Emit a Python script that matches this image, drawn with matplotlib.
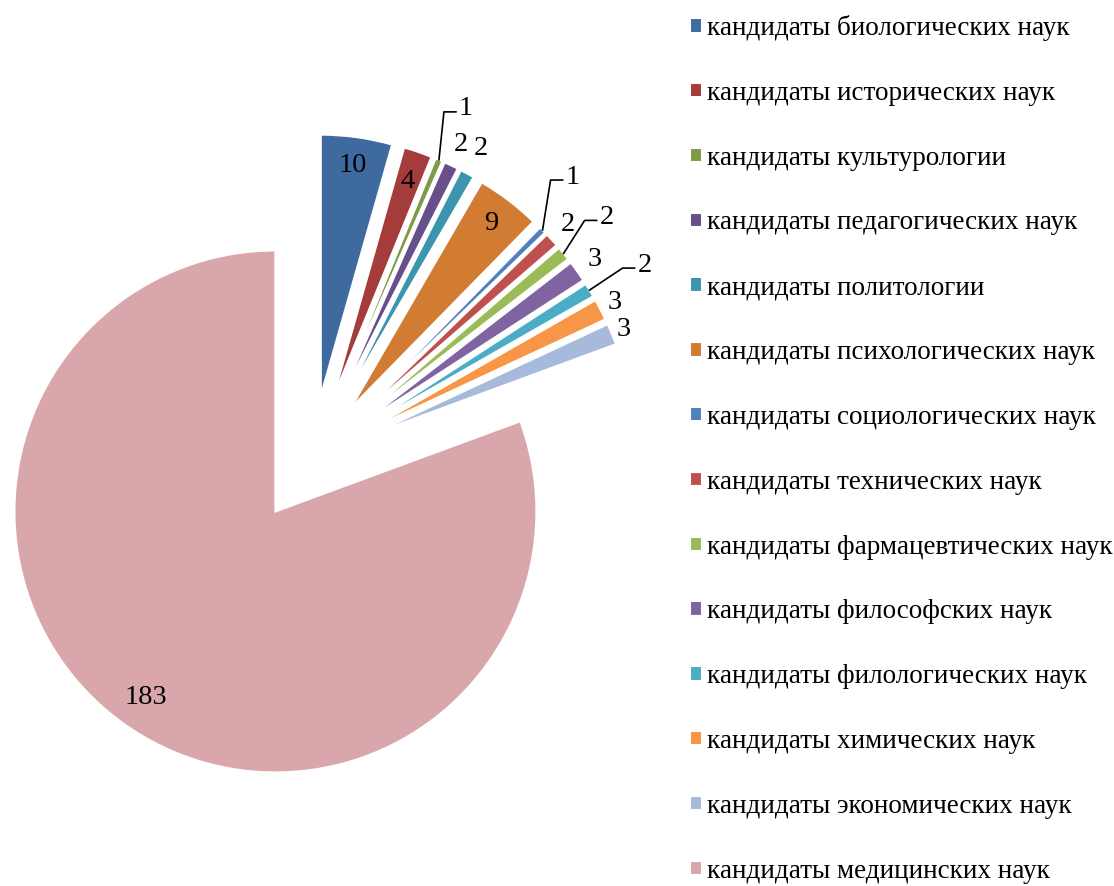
import numpy as np
import matplotlib.pyplot as plt

plt.rcParams['font.family'] = ['Liberation Serif', 'DejaVu Serif']

categories = [
    'кандидаты биологических наук',
    'кандидаты исторических наук',
    'кандидаты культурологии',
    'кандидаты педагогических наук',
    'кандидаты политологии',
    'кандидаты психологических наук',
    'кандидаты социологических наук',
    'кандидаты технических наук',
    'кандидаты фармацевтических наук',
    'кандидаты философских наук',
    'кандидаты филологических наук',
    'кандидаты химических наук',
    'кандидаты экономических наук',
    'кандидаты медицинских наук',
]
values = [10, 4, 1, 2, 2, 9, 1, 2, 2, 3, 2, 3, 3, 183]
colors = ['#3f6a9f', '#a33c3b', '#7e9b46', '#674f8b', '#3a95ad', '#d27b33',
          '#4f81bd', '#c0504d', '#9bbb59', '#8064a2', '#4bacc6', '#f79646',
          '#a7badb', '#d9a7ab']

# label placement: radius (in pie radii) or leader line offset in px
label_r = [0.89, 0.88, None, 1.09, 1.11, 0.89, None, 1.085, None, 1.08, None, 1.06, 1.05, 0.87]
leaders = {2: (5, 48), 6: (8, 50), 8: (21, 33), 10: (33, 22)}

W, H = 1114, 886
fig = plt.figure(figsize=(W / 100, H / 100), dpi=100)
px = 261.0          # pixels per unit radius
cx, cy = 312, 459   # pie centre in px (from left / top)
ax_w = 690
ax = fig.add_axes([0, 0, ax_w / W, 1])

wedges, _ = ax.pie(values, colors=colors, startangle=90, counterclock=False,
                   explode=[0.245] * len(values),
                   wedgeprops=dict(edgecolor='white', linewidth=1.5))
ax.set_xlim(-cx / px, (ax_w - cx) / px)
ax.set_ylim(-(H - cy) / px, cy / px)
ax.set_aspect('auto')

fs = 20.5
for i, w in enumerate(wedges):
    mid = np.deg2rad((w.theta1 + w.theta2) / 2)
    x0, y0 = w.center
    if i in leaders:
        tx, ty = x0 + np.cos(mid), y0 + np.sin(mid)
        dx, dy = leaders[i]
        ex, ey = tx + dx / px, ty + dy / px
        hx = ex + 12 / px
        ax.plot([tx, ex, hx], [ty, ey, ey], color='black', lw=1.2)
        ax.text(hx + 3 / px, ey + 3 / px, str(values[i]), ha='left', va='center', fontsize=fs)
    else:
        r = label_r[i]
        ax.text(x0 + r * np.cos(mid), y0 + r * np.sin(mid), str(values[i]),
                ha='center', va='center', fontsize=fs)

fig.legend(wedges, categories, loc='upper left', bbox_to_anchor=(690 / W, 1 - 15 / H),
           frameon=False, fontsize=19.5, handlelength=0.44, handleheight=0.44,
           handletextpad=0.2, labelspacing=1.47, borderpad=0, borderaxespad=0)

fig.savefig('out.png', dpi=100)
